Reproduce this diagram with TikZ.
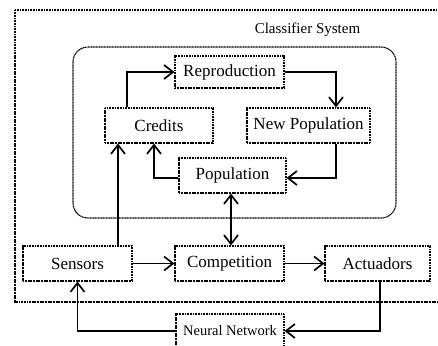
\documentclass[tikz,border=0pt]{standalone}
\usepackage{fontspec}
\setmainfont{Liberation Serif}
\usetikzlibrary{arrows.meta}
\begin{document}
\begin{tikzpicture}[x=1pt,y=1pt,
  frame/.style={line width=1.1pt, dash pattern=on 1.1pt off 0.5pt},
  box/.style={draw, frame, inner sep=0pt, font=\fontsize{17}{20}\selectfont},
  arr/.style={line width=1.7pt, -{Straight Barb[length=9pt,width=14pt,line width=1.7pt]}},
  arrboth/.style={line width=1.7pt, {Straight Barb[length=9pt,width=14pt,line width=1.7pt]}-{Straight Barb[length=9pt,width=14pt,line width=1.7pt]}}
]
\useasboundingbox (0,0) rectangle (438,-345);
% outer frame
\draw[frame] (15,-10) rectangle (450,-302);
\node[font=\fontsize{15}{18}\selectfont] (title) at (307.5,-30) {Classifier System};
% inner rounded frame
\draw[frame, rounded corners=15pt] (73,-47) rectangle (396,-218);
% nodes
\node[box, minimum width=109pt, minimum height=32pt] (repro) at (229.5,-72) {Reproduction};
\node[box, minimum width=108pt, minimum height=35pt] (credits) at (159,-125.5) {Credits};
\node[box, minimum width=123pt, minimum height=35pt] (newpop) at (308.5,-125.5) {New Population};
\node[box, minimum width=107pt, minimum height=35pt] (pop) at (232.5,-175.5) {Population};
\node[box, minimum width=109pt, minimum height=35pt] (sensors) at (77.5,-263.5) {Sensors};
\node[box, minimum width=109pt, minimum height=35pt] (comp) at (229.5,-263.5) {Competition};
\node[box, minimum width=105pt, minimum height=35pt] (act) at (377.5,-263.5) {Actuadors};
\node[box, minimum width=108pt, minimum height=34pt, font=\fontsize{14.5}{17}\selectfont] (nn) at (230,-331) {Neural Network};
% connectors
\draw[arr] ([xshift=-32pt]credits.north) |- (repro.west);
\draw[arr] (repro.east) -| ([xshift=27.5pt]newpop.north);
\draw[arr] ([xshift=27.5pt]newpop.south) |- ([yshift=-2.5pt]pop.east);
\draw[arr] ([yshift=-2.5pt]pop.west) -| ([xshift=-5pt]credits.south);
\draw[arr] ([xshift=40.5pt]sensors.north) -- ([xshift=-41pt]credits.south);
\draw[arrboth] ([xshift=-1.5pt]pop.south) -- ([xshift=1.5pt]comp.north);
\draw[arr] (sensors) -- (comp);
\draw[arr] (comp) -- (act);
\draw[arr] ([xshift=2.5pt]act.south) |- (nn.east);
\draw[arr] (nn.west) -| (sensors.south);
\end{tikzpicture}
\end{document}
